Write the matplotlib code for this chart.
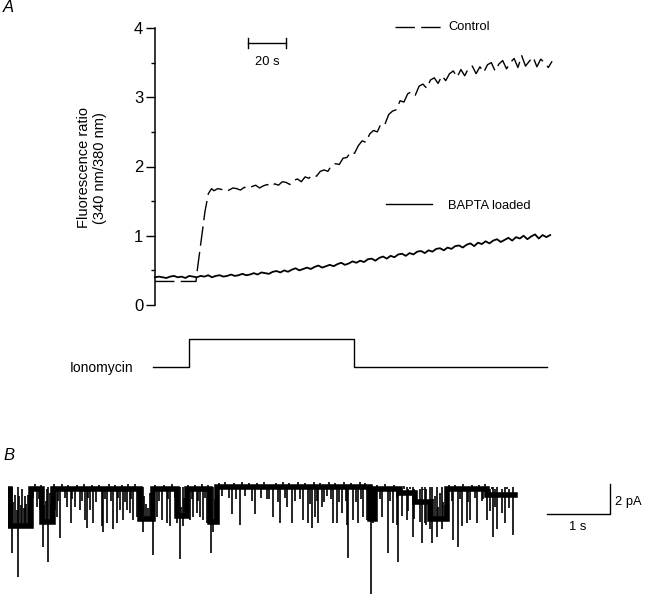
import numpy as np
import matplotlib.pyplot as plt

plt.rcParams['font.family'] = ['Liberation Sans', 'DejaVu Sans']

# ---------------- Panel A: fluorescence ratio (340/380) vs time (s)
# control: flat baseline, fast rise, then slow noisy climb (sampled every 2 s from 31 s)
ctrl_head_t = [0, 21.6, 22.0, 26.3, 28.1, 29.8]
ctrl_head_r = [0.34, 0.34, 0.45, 1.35, 1.61, 1.68]
ctrl_t0, ctrl_dt = 31, 2
ctrl_r = [1.65, 1.68, 1.67, 1.64, 1.66, 1.69, 1.68, 1.66, 1.70, 1.68,
          1.71, 1.73, 1.69, 1.72, 1.74, 1.71, 1.75, 1.73, 1.78, 1.77,
          1.74, 1.80, 1.82, 1.78, 1.85, 1.83, 1.88, 1.86, 1.93, 1.95,
          1.93, 2.02, 2.04, 2.03, 2.12, 2.13, 2.21, 2.19, 2.30, 2.37,
          2.35, 2.47, 2.52, 2.50, 2.62, 2.61, 2.75, 2.80, 2.82, 2.95,
          2.93, 3.05, 3.08, 3.03, 3.16, 3.19, 3.13, 3.25, 3.28, 3.20,
          3.31, 3.24, 3.34, 3.38, 3.29, 3.40, 3.31, 3.42, 3.45, 3.34,
          3.44, 3.36, 3.47, 3.50, 3.38, 3.48, 3.53, 3.41, 3.50, 3.56,
          3.43, 3.60, 3.45, 3.52, 3.58, 3.44, 3.55, 3.50, 3.43, 3.52]

# BAPTA loaded: sampled every 2 s from 0 s
bapta_t0, bapta_dt = 0, 2
bapta_r = [0.40, 0.41, 0.40, 0.39, 0.41, 0.42, 0.40, 0.41, 0.39, 0.42,
           0.41, 0.40, 0.42, 0.41, 0.43, 0.40, 0.42, 0.43, 0.41, 0.42,
           0.44, 0.42, 0.43, 0.45, 0.43, 0.44, 0.46, 0.44, 0.47, 0.46,
           0.45, 0.48, 0.49, 0.47, 0.50, 0.48, 0.51, 0.53, 0.50, 0.52,
           0.54, 0.52, 0.55, 0.57, 0.54, 0.56, 0.58, 0.56, 0.59, 0.61,
           0.58, 0.60, 0.63, 0.61, 0.64, 0.62, 0.66, 0.67, 0.64, 0.68,
           0.70, 0.67, 0.71, 0.69, 0.73, 0.74, 0.71, 0.75, 0.73, 0.77,
           0.78, 0.75, 0.79, 0.77, 0.81, 0.82, 0.79, 0.83, 0.81, 0.85,
           0.86, 0.83, 0.87, 0.89, 0.85, 0.90, 0.88, 0.92, 0.89, 0.93,
           0.95, 0.91, 0.94, 0.97, 0.93, 0.98, 0.96, 1.00, 0.95, 0.99,
           1.02, 0.96, 1.01, 0.98, 1.01]

# ionomycin application (0 = off, 1 = on)
ion_t = [-1, 17.9, 17.9, 104.7, 104.7, 206.3]
ion_on = [0, 0, 1, 1, 0, 0]

# ---------------- Panel B: single-channel current (pA) vs time (s)
seg_edges = [0.016, 0.032, 0.365, 0.540, 0.714, 2.095, 2.302, 2.683, 2.841,
             3.206, 3.317, 5.746, 5.825, 6.222, 6.460, 6.698, 6.968, 7.603, 8.048]
seg_level = [0.0, -2.5, 0.0, -2.2, 0.0, -2.0, 0.0, -1.8, 0.0,
             -2.2, 0.15, -2.0, 0.0, -0.3, -0.9, -2.0, 0.0, -0.4]

# openings (deep downward deflections)
spike_t = [0.059, 0.163, 0.456, 0.508, 0.560, 0.640, 0.746, 0.773, 0.825, 0.932,
           0.995, 1.063, 1.143, 1.222, 1.249, 1.302, 1.354, 1.487, 1.513, 1.567,
           1.671, 1.725, 1.778, 1.830, 1.884, 1.937, 1.989, 2.043, 2.148, 2.306,
           2.360, 2.440, 2.519, 2.571, 2.678, 2.730, 2.783, 2.889, 2.941, 2.995,
           3.048, 3.100, 3.154, 3.217, 3.259, 3.551, 3.683, 3.921, 4.106, 4.211,
           4.317, 4.424, 4.503, 4.687, 4.767, 4.821, 4.873, 4.925, 4.979, 5.059,
           5.163, 5.217, 5.297, 5.376, 5.402, 5.481, 5.560, 5.640, 5.694, 5.757,
           5.798, 5.932, 6.037, 6.116, 6.170, 6.195, 6.329, 6.433, 6.567, 6.619,
           6.698, 6.725, 6.805, 6.884, 7.068, 7.148, 7.202, 7.281, 7.333, 7.440,
           7.544, 7.598, 7.703, 7.757, 7.889, 8.021]
spike_i = [-4.3, -5.9, -1.2, -1.4, -3.9, -4.9, -1.4, -1.9, -3.3, -1.2,
           -2.3, -1.2, -1.4, -2.1, -2.6, -1.4, -2.3, -2.5, -2.9, -2.3,
           -2.7, -2.3, -1.4, -2.1, -1.4, -1.6, -2.1, -1.9, -2.9, -4.4,
           -1.9, -2.1, -2.3, -2.5, -2.3, -4.7, -2.5, -2.1, -1.9, -1.6,
           -1.9, -2.1, -2.3, -4.3, -2.9, -1.7, -2.4, -1.7, -0.7, -1.9,
           -2.3, -1.2, -2.3, -2.1, -2.3, -2.6, -1.9, -2.3, -1.2, -0.5,
           -2.3, -2.3, -1.6, -2.4, -4.6, -2.1, -2.3, -1.9, -2.1, -7.0,
           -2.3, -1.9, -4.3, -2.3, -2.4, -4.9, -2.1, -3.2, -3.6, -2.3,
           -2.7, -3.6, -3.2, -2.7, -3.4, -3.9, -2.5, -2.3, -2.1, -2.3,
           -0.7, -2.1, -3.2, -2.7, -2.3, -3.1]

# small baseline noise excursions
blip_t = [0.40, 0.43, 0.49, 0.53, 0.73, 0.79, 0.86, 0.90, 0.96, 1.02,
          1.10, 1.17, 1.20, 1.27, 1.33, 1.40, 1.45, 1.54, 1.60, 1.64,
          1.70, 1.75, 1.81, 1.86, 1.91, 1.96, 2.02, 2.07, 2.33, 2.40,
          2.47, 2.54, 2.60, 2.65, 2.86, 2.92, 2.97, 3.02, 3.08, 3.13,
          3.18, 3.35, 3.40, 3.45, 3.50, 3.58, 3.62, 3.71, 3.76, 3.82,
          3.87, 3.96, 4.01, 4.06, 4.15, 4.25, 4.28, 4.36, 4.40, 4.46,
          4.55, 4.60, 4.64, 4.72, 4.80, 4.85, 4.90, 4.95, 5.02, 5.10,
          5.13, 5.19, 5.25, 5.33, 5.36, 5.44, 5.52, 5.58, 5.61, 5.67,
          5.72, 5.85, 5.90, 5.98, 6.06, 6.13, 6.18, 6.25, 6.28, 6.35,
          6.38, 6.45, 6.50, 6.54, 6.59, 6.64, 6.67, 7.00, 7.04, 7.10,
          7.17, 7.23, 7.30, 7.37, 7.41, 7.48, 7.52, 7.57, 7.65, 7.68,
          7.73, 7.80, 7.84, 7.92, 7.96, 8.00]
blip_i = [-0.6, 0.3, -0.7, 0.25, 0.3, -0.8, 0.3, -0.6, 0.25, -0.7,
          0.25, -0.8, 0.3, -0.6, 0.25, -0.9, 0.25, -0.7, 0.3, -0.8,
          0.25, -0.6, 0.25, -0.9, 0.3, -0.7, 0.3, -0.6, 0.25, -0.8,
          0.25, -0.7, 0.3, -0.6, 0.25, -0.7, 0.25, -0.8, 0.3, -0.6,
          0.25, 0.4, -0.5, 0.45, -0.6, 0.4, -0.7, 0.45, -0.5, 0.4,
          -0.8, 0.4, -0.6, 0.45, -0.7, 0.4, -0.9, 0.45, -0.6, 0.4,
          -0.8, 0.45, -0.7, 0.4, -1.0, 0.45, -0.8, 0.4, -0.9, 0.45,
          -0.7, 0.4, -0.9, 0.45, -0.8, 0.4, -0.9, 0.45, -0.7, 0.4,
          -0.8, 0.25, -0.7, 0.3, -0.8, 0.25, -0.6, -1.8, 0.2, -1.5,
          0.1, -2.0, 0.0, -2.2, -0.1, -2.4, 0.0, 0.25, -0.8, 0.25,
          -0.7, 0.3, -0.9, 0.25, -0.6, 0.25, -0.8, 0.3, -1.5, 0.1,
          -1.2, 0.0, -1.6, 0.1, -1.3, 0.0]

# brief closures during open periods
flick_t = [0.050, 0.080, 0.111, 0.140, 0.175, 0.200, 0.222, 0.250, 0.270, 0.290,
           0.317, 0.340, 0.570, 0.600, 0.614, 0.667, 0.690, 2.120, 2.159, 2.190,
           2.220, 2.254, 2.280, 2.700, 2.750, 2.800, 2.820, 3.230, 3.280, 3.300,
           5.770, 5.810, 6.720, 6.750, 6.778, 6.830, 6.857, 6.900, 6.940]
flick_from = [-2.5, -2.5, -2.5, -2.5, -2.5, -2.5, -2.5, -2.5, -2.5, -2.5,
              -2.5, -2.5, -2.2, -2.2, -2.2, -2.2, -2.2, -2.0, -2.0, -2.0,
              -2.0, -2.0, -2.0, -1.8, -1.8, -1.8, -1.8, -2.2, -2.2, -2.2,
              -2.0, -2.0, -2.0, -2.0, -2.0, -2.0, -2.0, -2.0, -2.0]
flick_to = [-1.2, -0.9, -0.4, -1.4, -0.5, -1.1, 0.0, -1.3, -0.5, -1.0,
            -0.4, -1.2, -1.1, -0.8, 0.0, -0.3, -1.0, -1.2, -0.5, -1.0,
            -1.3, -0.3, -0.9, -0.8, -1.2, -0.6, -1.0, -1.0, -0.7, -1.2,
            -0.8, -1.0, -1.1, -0.7, -0.5, -1.2, -0.3, -0.9, -1.1]

W, H = 646, 601
fig = plt.figure(figsize=(W / 100, H / 100), dpi=100)


def px_axes(x0, y0, x1, y1):
    return fig.add_axes([x0 / W, 1 - y1 / H, (x1 - x0) / W, (y1 - y0) / H])


# ---- panel A
ax = px_axes(155, 28, 155 + 213 * 1.9, 305)
ax.set_xlim(0, 213)
ax.set_ylim(0, 4)
for s in ['top', 'right', 'bottom']:
    ax.spines[s].set_visible(False)
ax.spines['left'].set_linewidth(1.1)
ax.set_xticks([])
ax.set_yticks([0, 1, 2, 3, 4])
ax.set_yticks(np.arange(0.5, 4, 1.0), minor=True)
ax.tick_params(axis='y', which='major', direction='out', length=6.5, width=1.0,
               labelsize=12, pad=2)
ax.tick_params(axis='y', which='minor', direction='out', length=3, width=1.0)

ctrl_tt = list(ctrl_head_t) + list(ctrl_t0 + ctrl_dt * np.arange(len(ctrl_r)))
ctrl_rr = list(ctrl_head_r) + ctrl_r
ax.plot(ctrl_tt, ctrl_rr, color='k', lw=1.0, dashes=(14, 4.5), clip_on=False)
bapta_tt = bapta_t0 + bapta_dt * np.arange(len(bapta_r))
ax.plot(bapta_tt, bapta_r, color='k', lw=1.3, clip_on=False)

# legend entries
ax.plot([126.3, 151.1], [4.02, 4.02], color='k', lw=1.0, dashes=(14, 4.5), clip_on=False)
ax.text(154.2, 4.02, 'Control', fontsize=9.3, va='center', ha='left')
ax.plot([121.6, 145.8], [1.46, 1.46], color='k', lw=1.0, clip_on=False)
ax.text(154.2, 1.43, 'BAPTA loaded', fontsize=9.3, va='center', ha='left')

# 20 s scale bar
sb_t = [48.9, 68.9]
ax.plot(sb_t, [3.78, 3.78], color='k', lw=1.0)
for t in sb_t:
    ax.plot([t, t], [3.71, 3.85], color='k', lw=1.0)
ax.text(np.mean(sb_t), 3.51, '20 s', fontsize=9.3, ha='center', va='center')

fig.text(92 / W, 1 - 168 / H, 'Fluorescence ratio\n(340 nm/380 nm)', rotation=90,
         ha='center', va='center', fontsize=10.5, multialignment='center',
         linespacing=1.15)

# ionomycin bar
ax_ion = px_axes(155, 330, 155 + 213 * 1.9, 375)
ax_ion.set_xlim(0, 213)
ax_ion.set_ylim(-0.286, 1.32)
ax_ion.axis('off')
ax_ion.plot(ion_t, ion_on, color='k', lw=1.0, clip_on=False)
fig.text(70 / W, 1 - 368 / H, 'Ionomycin', fontsize=10, ha='left', va='center')

# ---- panel B
axb = px_axes(8, 460, 640, 600)
axb.set_xlim(0, 632 / 63)
axb.set_ylim(-7.4, 1.93)
axb.axis('off')

lev_t, lev_i = [], []
for k, lv in enumerate(seg_level):
    lev_t += [seg_edges[k], seg_edges[k + 1]]
    lev_i += [lv, lv]
axb.plot(lev_t, lev_i, color='k', lw=4.0, solid_joinstyle='miter')
axb.vlines(spike_t, spike_i, 0.1, color='k', lw=1.2)
axb.vlines(blip_t, 0.0, blip_i, color='k', lw=1.2)
axb.vlines(flick_t, flick_from, flick_to, color='k', lw=1.2)

# scale bars: 1 s, 2 pA
axb.plot([8.556, 9.556, 9.556], [-1.67, -1.67, 0.33], color='k', lw=1.0)
axb.text(9.05, -2.53, '1 s', fontsize=9.3, ha='center', va='center')
axb.text(9.635, -0.87, '2 pA', fontsize=9.3, ha='left', va='center')

fig.text(3 / W, 1 - 8 / H, 'A', fontsize=12, style='italic', ha='left', va='center')
fig.text(3 / W, 1 - 456 / H, 'B', fontsize=12, style='italic', ha='left', va='center')

fig.savefig('out.png', dpi=100)
